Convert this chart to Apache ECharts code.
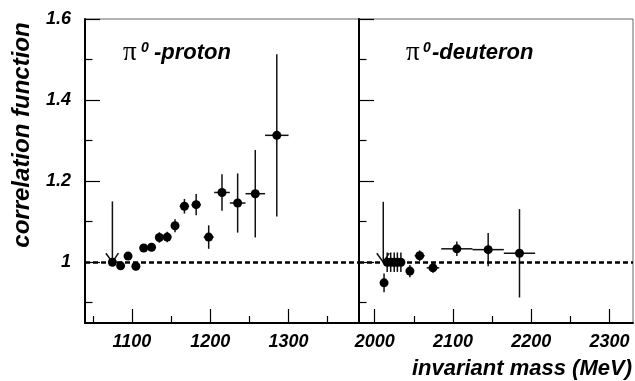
<!DOCTYPE html>
<html>
<head>
<meta charset="utf-8">
<script src="https://cdn.jsdelivr.net/npm/echarts@6/dist/echarts.min.js"></script>
<style>
html,body{margin:0;padding:0;background:#fff;}
#c{width:635px;height:381px;}
</style>
</head>
<body>
<div id="c"></div>
<script>
// ---- data ----
const protonMass = [1075, 1085.5, 1095, 1105, 1115, 1125, 1135, 1145, 1155, 1167, 1182, 1198, 1215, 1235, 1257.5, 1285];
const protonCF   = [1.0, 0.991, 1.015, 0.990, 1.035, 1.037, 1.061, 1.062, 1.090, 1.138, 1.142, 1.062, 1.172, 1.146, 1.169, 1.313];
const protonErrY = [0, 0.003, 0.004, 0.004, 0.006, 0.006, 0.013, 0.013, 0.016, 0.018, 0.026, 0.029, 0.045, 0.073, 0.108, 0.2];
const protonErrX = [0, 0, 0, 0, 0, 3, 4.5, 4.5, 4, 6, 6, 6.4, 10, 10, 12.5, 15];
const protonArrow = [1075, 1.0, 1.15];

const deutMass = [2012, 2016, 2020.5, 2025, 2029, 2033.5, 2045, 2057.5, 2074.5, 2105, 2145, 2185];
const deutCF   = [0.949, 1.0, 1.0, 1.0, 1.0, 1.0, 0.978, 1.016, 0.986, 1.033, 1.031, 1.022];
const deutErrY = [0.023, 0.024, 0.024, 0.024, 0.024, 0.024, 0.015, 0.013, 0.012, 0.018, 0.041, 0.109];
const deutErrX = [0, 2, 2, 2, 2, 2, 3, 6.4, 8, 20, 20, 20];
const deutArrow = [2011, 1.0, 1.149];

const protonTicks = [1100, 1200, 1300];
const protonMinor = [1050, 1150, 1250, 1350];
const deutTicks = [2000, 2100, 2200, 2300];
const deutMinor = [2050, 2150, 2250];
const cfTicks = [1, 1.2, 1.4, 1.6];
const cfMinor = [0.9, 1.1, 1.3, 1.5];

const xRangeP = [1040, 1390];
const xRangeD = [1980, 2330];
const yRange = [0.85, 1.6];

// ---- chart ----
const FONT = 'Liberation Sans';
const richLbl = {b: {fontFamily: FONT, fontWeight: 'bold', fontStyle: 'italic', fontSize: 18, color: '#000'}};
const fmt = v => '{b|' + String(v) + '}';

function xMajor(grid, range, ticks) {
  return {type: 'value', gridIndex: grid, min: range[0], max: range[1], position: 'bottom',
    axisLine: {show: true, onZero: false, lineStyle: {color: '#000', width: 2}},
    axisTick: {show: true, inside: true, length: 14, customValues: ticks, lineStyle: {color: '#000', width: 1.2}},
    axisLabel: {show: true, margin: 10, customValues: ticks, formatter: fmt, rich: richLbl,
      fontFamily: FONT, fontWeight: 'bold', fontStyle: 'italic', fontSize: 18, color: '#000'},
    splitLine: {show: false}};
}
function xMinor(grid, range, ticks) {
  return {type: 'value', gridIndex: grid, min: range[0], max: range[1], position: 'bottom',
    axisLine: {show: false, onZero: false},
    axisTick: {show: true, inside: true, length: 7, customValues: ticks, lineStyle: {color: '#000', width: 1.2}},
    axisLabel: {show: false}, splitLine: {show: false}};
}
function yMajor(grid, showLabels) {
  return {type: 'value', gridIndex: grid, min: yRange[0], max: yRange[1], position: 'left',
    axisLine: {show: true, onZero: false, lineStyle: {color: '#000', width: 2}},
    axisTick: {show: true, inside: true, length: 15, customValues: cfTicks, lineStyle: {color: '#000', width: 1.2}},
    axisLabel: {show: showLabels, margin: 14, customValues: cfTicks, formatter: fmt, rich: richLbl,
      fontFamily: FONT, fontWeight: 'bold', fontStyle: 'italic', fontSize: 18, color: '#000'},
    splitLine: {show: false}};
}
function yMinor(grid) {
  return {type: 'value', gridIndex: grid, min: yRange[0], max: yRange[1], position: 'left',
    axisLine: {show: false, onZero: false},
    axisTick: {show: true, inside: true, length: 7.5, customValues: cfMinor, lineStyle: {color: '#000', width: 1.2}},
    axisLabel: {show: false}, splitLine: {show: false}};
}

function errRender(params, api) {
  const x = api.value(0), y = api.value(1), ex = api.value(2), ey = api.value(3);
  const c = api.coord([x, y]);
  const children = [];
  const st = {stroke: '#111', lineWidth: 1.5};
  if (ey > 0) {
    const t = api.coord([x, y + ey]), b = api.coord([x, y - ey]);
    children.push({type: 'line', shape: {x1: c[0], y1: t[1], x2: c[0], y2: b[1]}, style: st});
  }
  if (ex > 0) {
    const l = api.coord([x - ex, y]), r = api.coord([x + ex, y]);
    children.push({type: 'line', shape: {x1: l[0], y1: c[1], x2: r[0], y2: c[1]}, style: st});
  }
  return {type: 'group', children: children};
}
function arrowRender(params, api) {
  const x = api.value(0), y = api.value(1), top = api.value(2);
  const c = api.coord([x, y]);
  const t = api.coord([x, top]);
  const st = {stroke: '#111', lineWidth: 1.5, fill: null};
  return {type: 'group', children: [
    {type: 'line', shape: {x1: c[0], y1: t[1], x2: c[0], y2: c[1]}, style: st},
    {type: 'polyline', shape: {points: [[c[0] - 6.5, c[1] - 9], [c[0], c[1]], [c[0] + 6, c[1] - 9]]}, style: st}
  ]};
}

function dashLine() {
  return {silent: true, symbol: ['none', 'none'], label: {show: false},
    lineStyle: {color: '#000', width: 2.5, type: [5, 3], opacity: 1}, data: [{yAxis: 1}]};
}

const option = {
  animation: false,
  backgroundColor: '#fff',
  grid: [
    {left: 85, top: 19, width: 274, height: 304, show: true, borderColor: '#666', borderWidth: 1, containLabel: false},
    {left: 359, top: 19, width: 274, height: 304, show: true, borderColor: '#666', borderWidth: 1, containLabel: false}
  ],
  xAxis: [
    xMajor(0, xRangeP, protonTicks), xMinor(0, xRangeP, protonMinor),
    xMajor(1, xRangeD, deutTicks), xMinor(1, xRangeD, deutMinor)
  ],
  yAxis: [
    yMajor(0, true), yMinor(0),
    yMajor(1, false), yMinor(1)
  ],
  series: [
    {type: 'custom', xAxisIndex: 0, yAxisIndex: 0, renderItem: errRender, z: 2, silent: true,
      data: protonMass.map((m, i) => [m, protonCF[i], protonErrX[i], protonErrY[i]])},
    {type: 'custom', xAxisIndex: 0, yAxisIndex: 0, renderItem: arrowRender, z: 2, silent: true,
      data: [protonArrow]},
    {type: 'scatter', xAxisIndex: 0, yAxisIndex: 0, symbol: 'circle', symbolSize: 9, z: 3,
      itemStyle: {color: '#000', opacity: 1}, data: protonMass.map((m, i) => [m, protonCF[i]]), markLine: dashLine()},
    {type: 'custom', xAxisIndex: 2, yAxisIndex: 2, renderItem: errRender, z: 2, silent: true,
      data: deutMass.map((m, i) => [m, deutCF[i], deutErrX[i], deutErrY[i]])},
    {type: 'custom', xAxisIndex: 2, yAxisIndex: 2, renderItem: arrowRender, z: 2, silent: true,
      data: [deutArrow]},
    {type: 'scatter', xAxisIndex: 2, yAxisIndex: 2, symbol: 'circle', symbolSize: 9, z: 3,
      itemStyle: {color: '#000', opacity: 1}, data: deutMass.map((m, i) => [m, deutCF[i]]), markLine: dashLine()}
  ],
  graphic: [
    {type: 'text', x: 123, y: 53, style: {text: 'π', font: '27px "Liberation Serif"', fill: '#000', verticalAlign: 'middle', align: 'left'}},
    {type: 'text', x: 141, y: 48, style: {text: '0', font: 'italic bold 14px "Liberation Sans"', fill: '#000', verticalAlign: 'middle', align: 'left'}},
    {type: 'text', x: 154, y: 53, style: {text: '-proton', font: 'italic bold 22px "Liberation Sans"', fill: '#000', verticalAlign: 'middle', align: 'left'}},
    {type: 'text', x: 406, y: 53, style: {text: 'π', font: '27px "Liberation Serif"', fill: '#000', verticalAlign: 'middle', align: 'left'}},
    {type: 'text', x: 423, y: 48, style: {text: '0', font: 'italic bold 14px "Liberation Sans"', fill: '#000', verticalAlign: 'middle', align: 'left'}},
    {type: 'text', x: 432, y: 53, style: {text: '-deuteron', font: 'italic bold 22px "Liberation Sans"', fill: '#000', verticalAlign: 'middle', align: 'left'}},
    {type: 'text', x: 22, y: 135, rotation: Math.PI / 2, style: {text: 'correlation function', font: 'italic bold 24px "Liberation Sans"', fill: '#000', verticalAlign: 'middle', align: 'center'}},
    {type: 'text', x: 632, y: 369, style: {text: 'invariant mass (MeV)', font: 'italic bold 22px "Liberation Sans"', fill: '#000', verticalAlign: 'middle', align: 'right'}}
  ]
};
const chart = echarts.init(document.getElementById('c'), null, {renderer: 'canvas'});
chart.setOption(option);
</script>
</body>
</html>
